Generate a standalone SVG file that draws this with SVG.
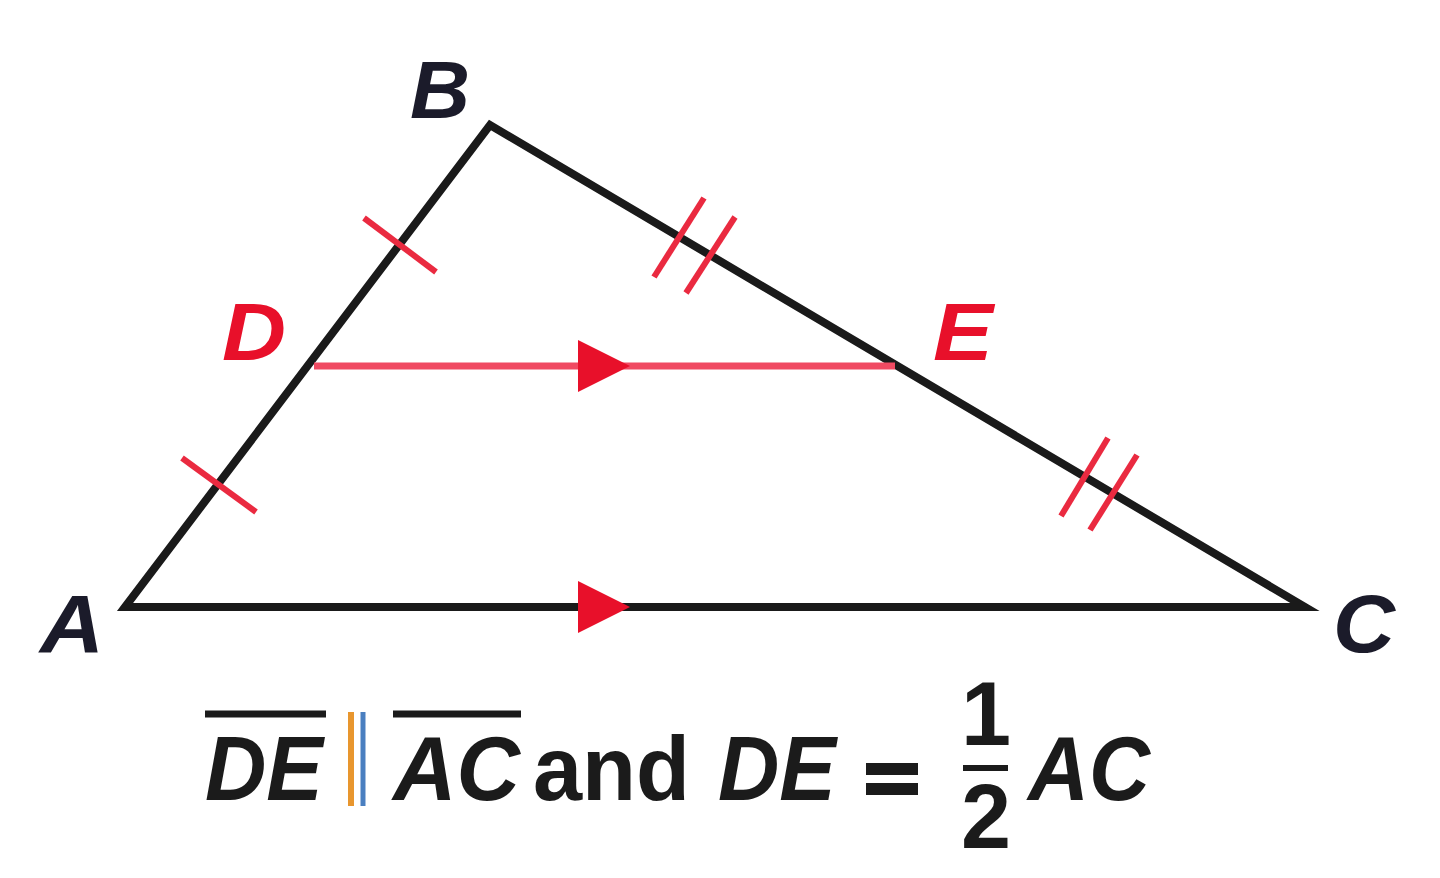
<svg xmlns="http://www.w3.org/2000/svg" width="1440" height="878" viewBox="0 0 1440 878">
<style>
.side{stroke:#1a1a1a;stroke-width:8;fill:none;stroke-linejoin:miter}
.mid{stroke:#f04a62;stroke-width:7;fill:none}
.tick{stroke:#ea2a40;stroke-width:6;fill:none}
.arr{fill:#e8102a}
.lbl{font-family:"Liberation Sans","Noto Sans",sans-serif;font-weight:bold;font-style:italic;font-size:82px}
.dark{fill:#1b1b2a}
.red{fill:#e8102a}
.eq{font-family:"Liberation Sans Narrow","Liberation Sans",sans-serif;font-weight:bold;font-size:90px;fill:#1b1b1b}
.it{font-style:italic}
</style>
<rect width="1440" height="878" fill="#ffffff"/>
<g id="connectors">
<polygon class="side" points="125,607 490,125 1305,607"/>
<line class="mid" x1="314" y1="366" x2="895" y2="366"/>
<polygon class="arr" points="578,340 630,366 578,392"/>
<polygon class="arr" points="578,581 630,607 578,633"/>
<line class="tick" x1="364" y1="218" x2="436" y2="272"/>
<line class="tick" x1="182" y1="458" x2="256" y2="512"/>
<line class="tick" x1="654" y1="277" x2="704" y2="198"/>
<line class="tick" x1="686" y1="293" x2="735" y2="217"/>
<line class="tick" x1="1061" y1="516" x2="1108" y2="438"/>
<line class="tick" x1="1090" y1="530" x2="1137" y2="455"/>
</g>
<g id="node-B"><text class="lbl dark" x="410" y="118" textLength="60" lengthAdjust="spacingAndGlyphs">B</text></g>
<g id="node-D"><text class="lbl red" x="222" y="360" textLength="64" lengthAdjust="spacingAndGlyphs">D</text></g>
<g id="node-E"><text class="lbl red" x="933" y="360" textLength="60" lengthAdjust="spacingAndGlyphs">E</text></g>
<g id="node-A"><text class="lbl dark" x="40" y="652" textLength="64" lengthAdjust="spacingAndGlyphs">A</text></g>
<g id="node-C"><text class="lbl dark" x="1333" y="652" textLength="62" lengthAdjust="spacingAndGlyphs">C</text></g>
<g id="formula">
<line x1="205" y1="714" x2="326" y2="714" stroke="#1b1b1b" stroke-width="7"/>
<line x1="393" y1="714" x2="521" y2="714" stroke="#1b1b1b" stroke-width="7"/>
<line x1="351" y1="712" x2="351" y2="806" stroke="#e8962e" stroke-width="6"/>
<line x1="363" y1="712" x2="363" y2="806" stroke="#4a7fc0" stroke-width="5"/>
<text class="eq it" x="205" y="800" textLength="118" lengthAdjust="spacingAndGlyphs">DE</text>
<text class="eq it" x="393" y="800" textLength="127" lengthAdjust="spacingAndGlyphs">AC</text>
<text class="eq" x="533" y="800" textLength="157" lengthAdjust="spacingAndGlyphs">and</text>
<text class="eq it" x="718" y="800" textLength="118" lengthAdjust="spacingAndGlyphs">DE</text>
<rect x="866" y="763" width="52" height="12" fill="#1b1b1b"/>
<rect x="866" y="783" width="52" height="12" fill="#1b1b1b"/>
<text class="eq" x="986" y="745" font-size="72" text-anchor="middle">1</text>
<line x1="963" y1="768" x2="1008" y2="768" stroke="#1b1b1b" stroke-width="6"/>
<text class="eq" x="986" y="848" font-size="72" text-anchor="middle">2</text>
<text class="eq it" x="1028" y="800" textLength="122" lengthAdjust="spacingAndGlyphs">AC</text>
</g>
</svg>
